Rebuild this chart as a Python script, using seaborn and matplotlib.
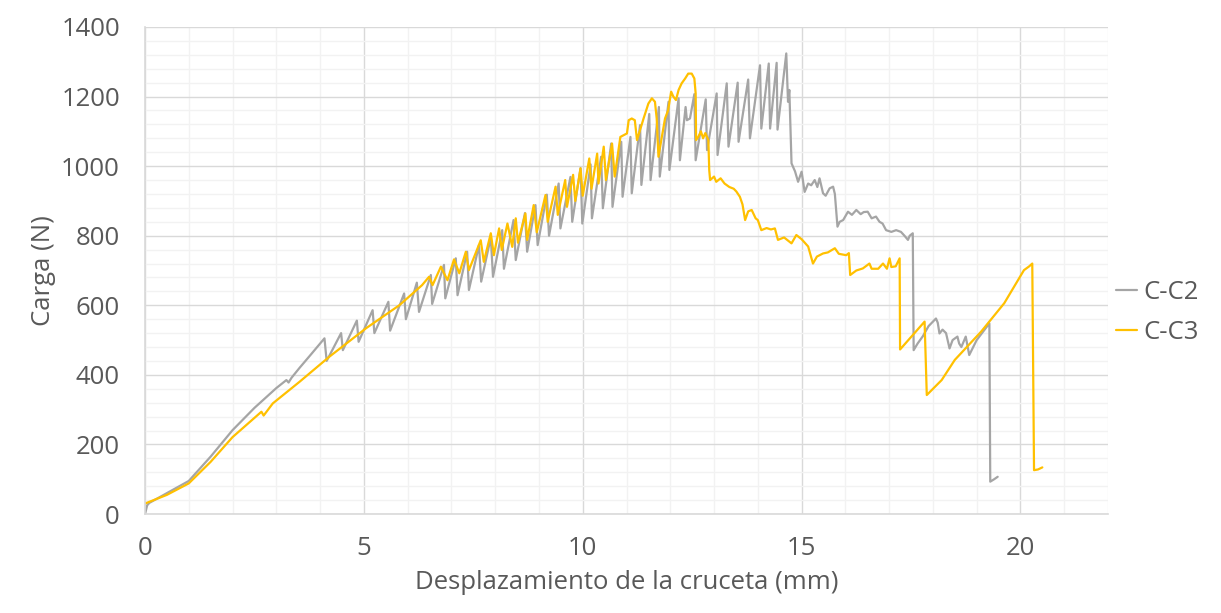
import numpy as np
import pandas as pd
import matplotlib
matplotlib.use("Agg")
import matplotlib.pyplot as plt
import seaborn as sns
from matplotlib.ticker import MultipleLocator

# ---- data ----
c2_x = [0, 0.05, 0.1, 0.5, 1.0, 1.5, 2.0, 2.5, 3.0, 3.23, 3.28, 3.35, 3.53, 3.8, 4.10, 4.15,
        4.48, 4.52, 4.84, 4.88, 5.20, 5.24, 5.56, 5.60, 5.92, 5.96, 6.21, 6.26, 6.53, 6.56,
        6.83, 6.86, 7.10, 7.14, 7.36, 7.40, 7.63, 7.68, 7.90, 7.95, 8.16, 8.20, 8.42, 8.47,
        8.68, 8.73, 8.92, 8.97, 9.18, 9.23, 9.45, 9.49, 9.72, 9.76, 9.95, 9.99, 10.18, 10.21,
        10.42, 10.46, 10.65, 10.68, 10.88, 10.91, 11.09, 11.12, 11.31, 11.34, 11.52, 11.55,
        11.74, 11.76, 11.96, 11.98, 12.19, 12.22, 12.35, 12.38, 12.45, 12.55, 12.58, 12.81,
        12.84, 13.06, 13.08, 13.29, 13.33, 13.54, 13.56, 13.78, 13.82, 14.05, 14.08, 14.25,
        14.28, 14.43, 14.45, 14.65, 14.69, 14.72, 14.77, 14.85, 14.92, 15.0, 15.07, 15.15,
        15.22, 15.3, 15.36, 15.41, 15.49, 15.55, 15.64, 15.72, 15.76, 15.82, 15.87, 15.95,
        16.06, 16.15, 16.25, 16.35, 16.42, 16.51, 16.6, 16.70, 16.78, 16.85, 16.93, 17.05,
        17.16, 17.27, 17.35, 17.43, 17.47, 17.54, 17.56, 17.65, 17.77, 17.9, 18.07, 18.11,
        18.15, 18.22, 18.3, 18.38, 18.45, 18.56, 18.6, 18.65, 18.7, 18.75, 18.83, 18.9, 19.0,
        19.15, 19.29, 19.31, 19.4, 19.48]
c2_y = [0, 25, 32, 60, 95, 165, 241, 305, 362, 385, 378, 392, 420, 460, 505, 440,
        520, 471, 556, 495, 586, 520, 610, 527, 634, 560, 665, 581, 687, 604,
        716, 620, 735, 629, 754, 644, 773, 668, 795, 682, 816, 705, 845, 730,
        865, 754, 888, 773, 918, 800, 950, 821, 969, 840, 994, 835, 1005, 850,
        1027, 879, 1065, 883, 1070, 912, 1084, 922, 1118, 946, 1150, 960,
        1170, 970, 1185, 989, 1195, 1017, 1170, 1132, 1137, 1207, 1017, 1192,
        1046, 1209, 1032, 1238, 1056, 1240, 1070, 1249, 1080, 1290, 1108, 1295,
        1108, 1297, 1105, 1324, 1185, 1219, 1008, 985, 955, 984, 926, 950,
        945, 960, 940, 965, 922, 915, 936, 941, 920, 826, 840, 845,
        869, 860, 874, 862, 868, 869, 850, 855, 840, 835, 816, 811,
        816, 811, 800, 788, 800, 807, 471, 490, 511, 540, 562, 550,
        519, 530, 520, 476, 500, 510, 490, 480, 495, 510, 457, 475, 500,
        525, 548, 93, 100, 107]

c3_x = [0.0, 0.5, 1.0, 1.5, 2.0, 2.4, 2.66, 2.71, 2.92, 3.53, 4.21, 5.05, 5.81, 6.33, 6.49,
        6.57, 6.76, 6.91, 7.06, 7.18, 7.33, 7.40, 7.67, 7.74, 7.90, 7.97, 8.09, 8.15, 8.28,
        8.39, 8.47, 8.52, 8.69, 8.73, 8.88, 8.95, 9.15, 9.2, 9.38, 9.43, 9.6, 9.64, 9.78,
        9.83, 9.95, 10.0, 10.15, 10.2, 10.33, 10.36, 10.48, 10.53, 10.67, 10.73, 10.86,
        11.01, 11.05, 11.12, 11.19, 11.24, 11.39, 11.5, 11.58, 11.65, 11.69, 11.73, 11.88,
        11.95, 12.02, 12.07, 12.13, 12.19, 12.26, 12.34, 12.41, 12.49, 12.55, 12.58, 12.59,
        12.64, 12.7, 12.75, 12.8, 12.87, 12.89, 12.91, 13.0, 13.05, 13.15, 13.24, 13.35,
        13.45, 13.51, 13.59, 13.65, 13.71, 13.78, 13.86, 13.95, 14.0, 14.08, 14.2, 14.3,
        14.39, 14.46, 14.6, 14.77, 14.88, 15.0, 15.15, 15.26, 15.35, 15.49, 15.6, 15.76,
        15.85, 16.02, 16.08, 16.11, 16.25, 16.40, 16.55, 16.6, 16.75, 16.86, 16.95, 17.01,
        17.05, 17.15, 17.24, 17.25, 17.81, 17.86, 18.2, 18.5, 19.1, 19.63, 20.08, 20.2,
        20.27, 20.31, 20.4, 20.5]
c3_y = [30, 55, 88, 150, 221, 265, 294, 283, 318, 380, 452, 534, 600, 658, 682,
        658, 711, 672, 732, 692, 754, 701, 787, 725, 807, 744, 821, 759, 835,
        768, 850, 780, 864, 788, 888, 810, 917, 840, 941, 860, 960, 883, 975,
        900, 994, 915, 1022, 935, 1036, 950, 1056, 960, 1065, 970, 1084,
        1094, 1132, 1137, 1132, 1075, 1137, 1180, 1195, 1185, 1137, 1027, 1137,
        1160, 1214, 1200, 1190, 1219, 1238, 1252, 1266, 1266, 1252, 1209, 1075,
        1084, 1100, 1080, 1095, 1075, 989, 960, 970, 955, 965, 950, 940,
        935, 927, 912, 890, 845, 870, 874, 850, 845, 816, 822, 818,
        821, 788, 795, 778, 802, 790, 769, 720, 740, 749, 752, 764,
        748, 744, 750, 687, 700, 706, 720, 705, 705, 720, 705, 735,
        710, 712, 735, 473, 553, 342, 385, 443, 524, 606, 701, 712,
        720, 126, 128, 134]

series_names = ["C-C2", "C-C3"]
x_ticks = [0, 5, 10, 15, 20]
y_ticks = [0, 200, 400, 600, 800, 1000, 1200, 1400]

df = pd.concat([
    pd.DataFrame({"x": c2_x, "y": c2_y, "serie": series_names[0]}),
    pd.DataFrame({"x": c3_x, "y": c3_y, "serie": series_names[1]}),
], ignore_index=True)

sns.set_theme(style="white")
plt.rcParams["font.family"] = ["Open Sans", "DejaVu Sans"]

txt = "#595959"
fs = 18.5
fig = plt.figure(figsize=(12.21, 6.13), dpi=100)
ax = fig.add_axes([145 / 1221, 1 - 514 / 613, (1108 - 145) / 1221, (514 - 27) / 613])

sns.lineplot(data=df, x="x", y="y", hue="serie", sort=False, estimator=None,
             palette={"C-C2": "#A5A5A5", "C-C3": "#FFC000"}, linewidth=1.6, ax=ax)

ax.set_xlim(0, 22)
ax.set_ylim(0, 1400)
ax.set_xticks(x_ticks)
ax.set_yticks(y_ticks)
ax.xaxis.set_minor_locator(MultipleLocator(1))
ax.yaxis.set_minor_locator(MultipleLocator(40))
ax.grid(which="major", color="#D9D9D9", linewidth=1.0)
ax.grid(which="minor", color="#F2F2F2", linewidth=1.0)
ax.set_axisbelow(True)
for s in ["top", "right"]:
    ax.spines[s].set_visible(False)
for s in ["left", "bottom"]:
    ax.spines[s].set_color("#D9D9D9")
    ax.spines[s].set_linewidth(1.2)
ax.tick_params(which="major", direction="out", length=7, width=1.0, color="#D9D9D9",
               labelcolor=txt, labelsize=fs)
ax.tick_params(which="minor", length=0)
ax.tick_params(axis="y", pad=11)
ax.tick_params(axis="x", pad=9)

ax.set_xlabel("Desplazamiento de la cruceta (mm)", fontsize=fs, color=txt, labelpad=6)
ax.set_ylabel("Carga (N)", fontsize=fs, color=txt, labelpad=3.5)

leg = ax.legend(loc="center left", bbox_to_anchor=(1.0 + 8 / 963, 0.414), frameon=False,
                fontsize=fs, handlelength=0.8, handletextpad=0.25, labelspacing=0.56,
                borderaxespad=0, borderpad=0)
for t in leg.get_texts():
    t.set_color(txt)

fig.savefig("out.png", dpi=100, facecolor="white")
